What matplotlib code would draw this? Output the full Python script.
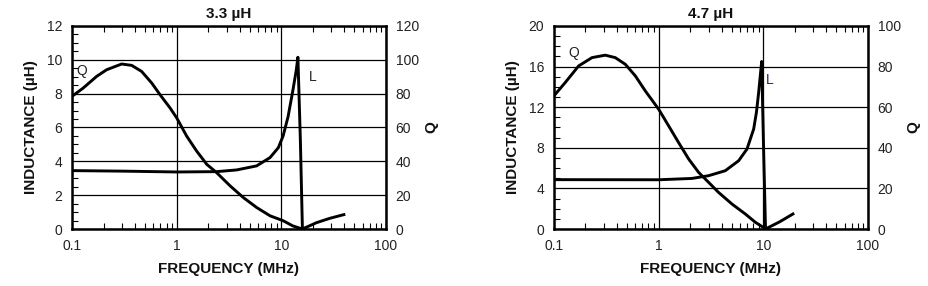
"""Inductance and Q versus frequency for two chip inductors (3.3 uH and 4.7 uH)."""

import matplotlib

matplotlib.use("Agg")
import matplotlib.pyplot as plt  # noqa: E402
from matplotlib.ticker import LogLocator, MultipleLocator, NullFormatter  # noqa: E402

plt.rcParams["font.family"] = ["Liberation Sans", "DejaVu Sans"]

# 3.3 uH part: inductance (uH) and Q against frequency (MHz)
freq_l_33 = [0.1, 0.3, 1.0, 2.41, 3.74, 5.81, 7.8, 9.35, 10.4, 11.6, 12.9, 13.9, 14.4,
             15.2, 15.9]
ind_33 = [3.45, 3.42, 3.37, 3.39, 3.49, 3.73, 4.22, 4.80, 5.5, 6.64, 8.2, 9.4, 10.15,
          5.26, 0.0]
freq_q_33 = [0.1, 0.128, 0.172, 0.214, 0.298, 0.372, 0.463, 0.577, 0.693, 0.863, 1.0,
             1.246, 1.55, 1.94, 2.41, 3.24, 4.33, 5.81, 7.8, 10.4, 12.9, 15.9, 21.6,
             29.0, 39.6]
q_33 = [78.4, 83.3, 90.2, 94.1, 97.5, 96.7, 93.1, 86.3, 79.4, 71.6, 65.7, 54.9, 46.1,
        38.2, 33.3, 25.5, 18.6, 12.7, 7.8, 4.9, 1.8, 0, 3.7, 6.3, 8.5]

# 4.7 uH part
freq_l_47 = [0.1, 1.0, 2.08, 3.0, 4.33, 5.81, 6.98, 8.09, 8.6, 9.02, 9.4, 9.65, 10.05,
             10.5]
ind_47 = [4.86, 4.85, 4.98, 5.25, 5.74, 6.72, 7.87, 9.84, 11.5, 13.4, 15.3, 16.5, 8.2,
          0.0]
freq_q_47 = [0.1, 0.128, 0.172, 0.231, 0.309, 0.385, 0.481, 0.599, 0.746, 1.0, 1.246,
             1.55, 1.94, 2.41, 3.0, 3.74, 5.02, 6.73, 8.4, 10.0, 10.5, 14.4, 19.2]
q_47 = [65.6, 72.1, 80.3, 84.4, 85.6, 84.4, 81.1, 75.4, 68.0, 59.0, 50.8, 42.6, 34.4,
        27.9, 23.0, 18.0, 12.3, 7.4, 3.3, 0.8, 0, 3.6, 7.4]

TICK_KW = dict(direction="in", labelsize=10, labelcolor="#222222")
LABEL_KW = dict(fontsize=11, fontweight="bold", color="#111111")


def draw_panel(ax, title, freq_l, ind, freq_q, q, l_max, l_major, l_minor, q_max,
               q_pos, l_pos, l_color):
    ax.set_xscale("log")
    ax.set_xlim(0.1, 100)
    ax.set_ylim(0, l_max)
    ax.set_xticks([0.1, 1, 10, 100])
    ax.set_xticklabels(["0.1", "1", "10", "100"])
    ax.xaxis.set_minor_locator(LogLocator(base=10, subs=range(2, 10)))
    ax.xaxis.set_minor_formatter(NullFormatter())
    ax.yaxis.set_major_locator(MultipleLocator(l_major))
    ax.yaxis.set_minor_locator(MultipleLocator(l_minor))
    ax.tick_params(which="both", top=True, right=True, **TICK_KW)
    ax.tick_params(which="major", length=0, pad=7)
    ax.tick_params(which="minor", length=4, width=0.8)
    ax.grid(True, which="major", color="black", linewidth=0.9)
    for spine in ax.spines.values():
        spine.set_linewidth(1.8)

    ax.plot(freq_l, ind, color="black", linewidth=2.1, solid_joinstyle="round")

    qax = ax.twinx()
    qax.set_ylim(0, q_max)
    qax.yaxis.set_major_locator(MultipleLocator(20))
    qax.tick_params(which="major", length=0, pad=7, **TICK_KW)
    qax.plot(freq_q, q, color="black", linewidth=2.1, solid_joinstyle="round")
    for spine in qax.spines.values():
        spine.set_visible(False)

    ax.text(*q_pos, "Q", fontsize=10, color="#222222", ha="center", va="center")
    ax.text(*l_pos, "L", fontsize=10, color=l_color, ha="center", va="center")

    ax.set_title(title, pad=6, **LABEL_KW)
    ax.set_xlabel("FREQUENCY (MHz)", labelpad=7, **LABEL_KW)
    ax.set_ylabel("INDUCTANCE (\u00b5H)", labelpad=6, **LABEL_KW)
    qax.set_ylabel("Q", labelpad=4, **LABEL_KW)


fig = plt.figure(figsize=(9.29, 2.86), dpi=100)
ax1 = fig.add_axes([0.0775, 0.1993, 0.338, 0.710])
ax2 = fig.add_axes([0.5963, 0.1993, 0.338, 0.710])

draw_panel(ax1, "3.3 \u00b5H", freq_l_33, ind_33, freq_q_33, q_33, 12, 2, 0.5, 120,
           (0.123, 9.35), (20, 9.0), "#222222")
draw_panel(ax2, "4.7 \u00b5H", freq_l_47, ind_47, freq_q_47, q_47, 20, 4, 1, 100,
           (0.153, 17.3), (11.5, 14.7), "#1c2a5c")

fig.savefig("out.png", dpi=100)
